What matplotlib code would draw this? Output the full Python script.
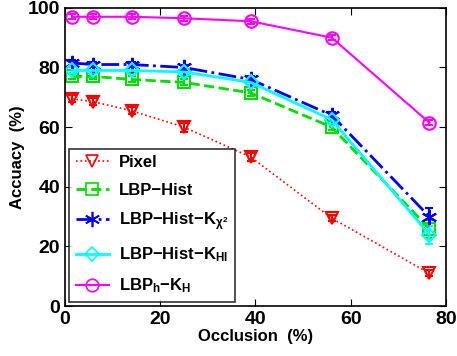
import numpy as np
import matplotlib
matplotlib.use("Agg")
import matplotlib.pyplot as plt
from matplotlib.lines import Line2D

plt.rcParams['font.family'] = ['Liberation Sans', 'DejaVu Sans']
plt.rcParams['font.weight'] = 'bold'
plt.rcParams['mathtext.fontset'] = 'custom'
plt.rcParams['mathtext.rm'] = 'Liberation Sans:bold'
plt.rcParams['mathtext.it'] = 'Liberation Sans:bold'
plt.rcParams['mathtext.bf'] = 'Liberation Sans:bold'

# Data
occlusion = [1.5, 6, 14, 25, 39, 56, 76.5]
pixel = [69.5, 68.5, 65.5, 60, 50, 29.5, 11]
pixel_err = [1.2, 1.2, 1.2, 1.5, 1.2, 1.0, 1.0]
lbp_hist = [77, 77, 76, 75, 71.5, 60, 26]
lbp_hist_err = [1.0, 1.0, 1.0, 1.0, 1.0, 1.0, 3.0]
lbp_chi2 = [81.5, 81, 81, 80, 76, 64, 30]
lbp_chi2_err = [1.0, 1.0, 1.0, 1.0, 1.0, 1.0, 3.0]
lbp_hi = [79, 79, 79, 78.5, 75, 62.5, 24]
lbp_hi_err = [1.0, 1.0, 1.0, 1.0, 1.0, 1.0, 3.0]
lbph_kh = [97, 97, 97, 96.5, 95.5, 90, 61.5]
lbph_kh_err = [0.8, 0.8, 0.8, 0.8, 0.8, 0.8, 0.8]

fig = plt.figure(figsize=(4.57, 3.56), dpi=100)
ax = fig.add_axes([0.142, 0.14, 0.834, 0.838])

series = [
    (pixel, pixel_err, 'Pixel', 'red', ':', 'v', 1.2),
    (lbp_hist, lbp_hist_err, 'LBP\u2212Hist', '#00e000', '--', 's', 2),
    (lbp_chi2, lbp_chi2_err, r'LBP$-$Hist$-$K$_{\chi^2}$', 'blue', '-.', (6, 2, 0), 2),
    (lbp_hi, lbp_hi_err, r'LBP$-$Hist$-$K$_{HI}$', 'cyan', '-', 'D', 2),
    (lbph_kh, lbph_kh_err, r'LBP$_h$$-$K$_H$', 'magenta', '-', 'o', 1.5),
]
handles = []
for y, e, lab, c, ls, m, lw in series:
    ms = 7 if m == 'D' else (11 if m == (6, 2, 0) else 9)
    ax.errorbar(occlusion, y, yerr=e, color=c, linestyle=ls,
                marker=m, markersize=ms, markerfacecolor='none',
                markeredgecolor=c, markeredgewidth=1.5, linewidth=lw,
                capsize=3, elinewidth=1.5)
    handles.append(Line2D([], [], color=c, linestyle=ls, marker=m, markersize=ms,
                          markerfacecolor='none', markeredgewidth=1.2,
                          linewidth=lw, label=lab))

ax.set_xlim(0, 80)
ax.set_ylim(0, 100)
ax.set_xticks([0, 20, 40, 60, 80])
ax.set_yticks([0, 20, 40, 60, 80, 100])
ax.tick_params(direction='in', top=True, right=True, labelsize=14, length=5)
for s in ax.spines.values():
    s.set_linewidth(1.2)
ax.set_xlabel('Occlusion  (%)', fontsize=12, fontweight='bold', labelpad=1)
ax.set_ylabel('Accuacy  (%)', fontsize=12, fontweight='bold', labelpad=2)

leg = ax.legend(handles=handles, loc='lower left', fontsize=12, frameon=True,
                fancybox=False, edgecolor='black', handlelength=2.0,
                handletextpad=0.6, borderaxespad=0.25, labelspacing=0.75,
                borderpad=0.4)
leg.get_frame().set_linewidth(1.2)

fig.savefig('out.png', dpi=100)
